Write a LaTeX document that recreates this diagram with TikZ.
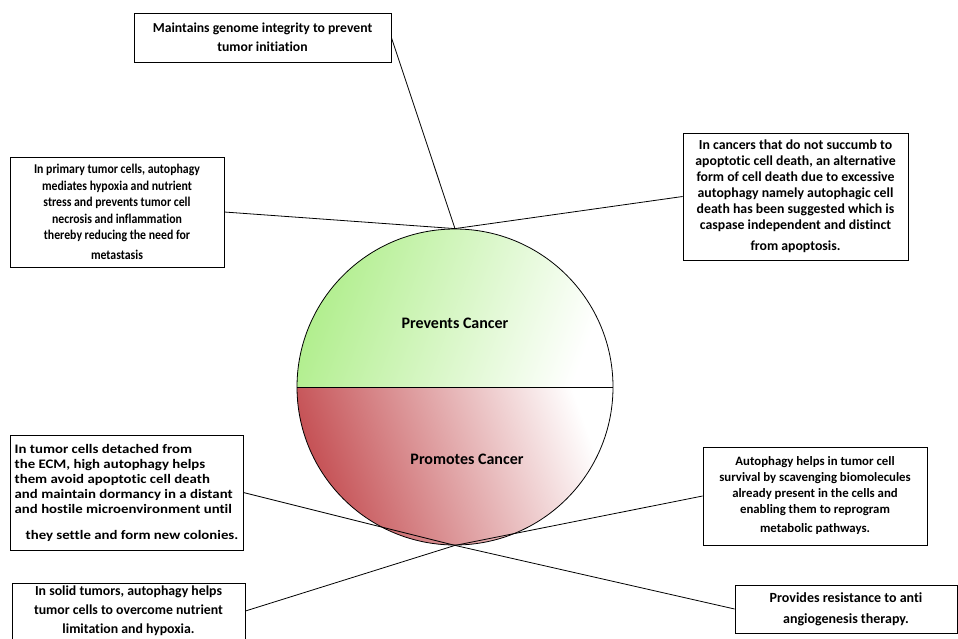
\documentclass[tikz,border=0pt]{standalone}
\usepackage{fontspec}
\setmainfont{Carlito}[Ligatures=NoCommon]
\newfontfamily\widefont{Carlito}[Ligatures=NoCommon, FakeStretch=1.14]
\newfontfamily\narrowfont{Carlito}[Ligatures=NoCommon, FakeStretch=0.88]
\definecolor{leafgreen}{RGB}{176,238,140}
\definecolor{rustred}{RGB}{196,78,82}
\newcommand\boxfont[2]{\bfseries\fontsize{#1}{#2}\selectfont}
\begin{document}
\begin{tikzpicture}[x=1pt,y=-1pt,
    notebox/.style={draw, line width=0.8pt, inner sep=0pt, align=center},
    link/.style={line width=0.8pt},
    halflabel/.style={font=\boxfont{16}{18}}]
            \useasboundingbox (0,0) rectangle (958,638);

            \coordinate (O) at (455, 387);

            \begin{scope}
                \clip (O) circle[radius=158];
                \shade[left color=leafgreen, right color=white, shading angle=70] (297,229) rectangle (613,387);
                \shade[left color=rustred, right color=white, shading angle=110] (297,387) rectangle (613,545);
            \end{scope}
            \node[circle, draw, line width=0.8pt, minimum size=316pt, inner sep=0pt] (ball) at (O) {};
            \draw[link] (ball.west) -- (ball.east);

            \node[halflabel] (prevents) at (455, 323) {Prevents Cancer};
            \node[halflabel] (promotes) at (467, 459) {Promotes Cancer};

            \node[notebox, font=\boxfont{13.7}{16}, minimum width=257pt, minimum height=49pt] (genome) at (262.5, 37.5)
                {Maintains genome integrity to prevent\\[3pt]tumor initiation};
            \node[notebox, font=\narrowfont\boxfont{13.4}{16.5}, minimum width=214pt, minimum height=110pt] (primary) at (117, 212)
                {In primary tumor cells, autophagy\\mediates hypoxia and nutrient\\stress and prevents tumor cell\\necrosis and inflammation\\thereby reducing the need for\\[3pt]metastasis};
            \node[notebox, font=\boxfont{13.8}{16}, minimum width=225pt, minimum height=127pt] (apoptotic) at (795.5, 196.5)
                {In cancers that do not succumb to\\apoptotic cell death, an alternative\\form of cell death due to excessive\\autophagy namely autophagic cell\\death has been suggested which is\\caspase independent and distinct\\[5pt]from apoptosis.};
            \node[notebox, font=\widefont\boxfont{13}{15}, align=left, minimum width=233pt, minimum height=115pt] (ecm) at (126.5, 492.5)
                {In tumor cells detached from\\the ECM, high autophagy helps\\them avoid apoptotic cell death\\and maintain dormancy in a distant\\and hostile microenvironment until\\[11pt]\hspace{11pt}they settle and form new colonies.};
            \node[notebox, font=\boxfont{12.8}{16}, minimum width=224pt, minimum height=98pt] (scavenge) at (815, 496)
                {Autophagy helps in tumor cell\\survival by scavenging biomolecules\\already present in the cells and\\enabling them to reprogram\\[3pt]metabolic pathways.};
            \node[notebox, font=\boxfont{13.8}{16}, minimum width=233pt, minimum height=56pt] (solid) at (128.5, 611)
                {In solid tumors, autophagy helps\\[3pt]tumor cells to overcome nutrient\\[3pt]limitation and hypoxia.};
            \node[notebox, font=\boxfont{14}{16}, minimum width=222pt, minimum height=48pt] (angio) at (846, 609)
                {Provides resistance to anti\\[5pt]angiogenesis therapy.};

            \draw[link] (genome.east) -- (ball.north);
            \draw[link] (primary.east) -- (ball.north);
            \draw[link] (apoptotic.west) -- (ball.north);
            \draw[link] (ecm.east) -- (ball.south);
            \draw[link] (angio.west) -- (ball.south);
            \draw[link] (scavenge.west) -- (ball.south);
            \draw[link] (solid.east) -- (ball.south);

        \end{tikzpicture}
\end{document}
